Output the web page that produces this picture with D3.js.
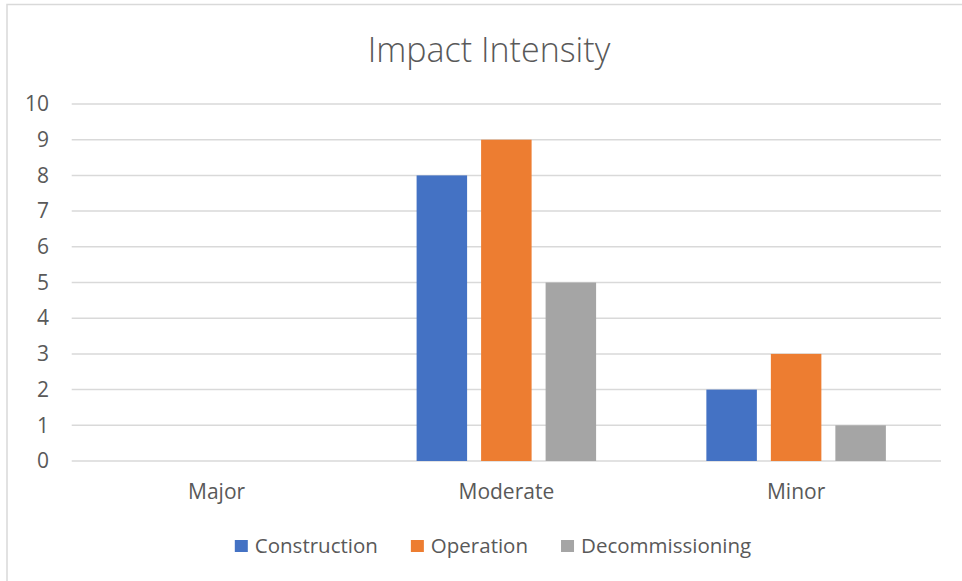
<!DOCTYPE html>
<html>
<head>
<meta charset="utf-8">
<script src="https://cdn.jsdelivr.net/npm/d3@7"></script>
<style>
  html, body { margin: 0; padding: 0; background: #fff; }
  svg { display: block; }
  text { font-family: "Open Sans", "Noto Sans", sans-serif; fill: #595959; }
</style>
</head>
<body>
<svg id="chart" width="962" height="581"></svg>
<script>
// Chart data
const categories = ["Major", "Moderate", "Minor"];
const seriesNames = ["Construction", "Operation", "Decommissioning"];
const construction = [0, 8, 2];
const operation = [0, 9, 3];
const decommissioning = [0, 5, 1];
const yTicks = [0, 1, 2, 3, 4, 5, 6, 7, 8, 9, 10];
const titleText = "Impact Intensity";

const seriesValues = [construction, operation, decommissioning];
const colors = ["#4472C4", "#ED7D31", "#A5A5A5"];

const W = 962, H = 581;
const plot = { left: 71.7, right: 941, top: 104, bottom: 461 };
const labelSize = "21px";
const legendSize = "20.5px";

const svg = d3.select("#chart");

// Outer chart border (top and left edges visible)
svg.append("rect")
  .attr("x", 7).attr("y", 4.5)
  .attr("width", W + 10).attr("height", H + 10)
  .attr("fill", "none")
  .attr("stroke", "#d9d9d9")
  .attr("stroke-width", 1.5);

// Title
svg.append("text")
  .attr("x", 489).attr("y", 62)
  .attr("text-anchor", "middle")
  .style("font-size", "34px")
  .style("font-weight", 300)
  .text(titleText);

// Scales
const x = d3.scaleBand()
  .domain(categories)
  .range([plot.left, plot.right])
  .paddingInner(0).paddingOuter(0);

const groupWidth = 179.5;
const groupOffset = (x.bandwidth() - groupWidth) / 2;
const xInner = d3.scaleBand()
  .domain(seriesNames)
  .range([groupOffset, groupOffset + groupWidth])
  .paddingInner(0.217).paddingOuter(0);

const y = d3.scaleLinear().domain([0, 10]).range([plot.bottom, plot.top]);

// Gridlines
svg.append("g")
  .selectAll("line")
  .data(yTicks)
  .join("line")
  .attr("x1", plot.left).attr("x2", plot.right)
  .attr("y1", d => y(d)).attr("y2", d => y(d))
  .attr("stroke", "#d9d9d9")
  .attr("stroke-width", 1.5);

// Y axis labels
const yAxis = d3.axisLeft(y).tickValues(yTicks).tickSize(0).tickPadding(0);
const yG = svg.append("g")
  .attr("transform", `translate(49,0)`)
  .call(yAxis);
yG.select(".domain").remove();
yG.selectAll("text")
  .style("font-size", labelSize)
  .attr("fill", "#595959")
  .attr("font-family", null);

// Bars
const groups = svg.append("g")
  .selectAll("g")
  .data(categories)
  .join("g")
  .attr("transform", d => `translate(${x(d)},0)`);

groups.selectAll("rect")
  .data((c, ci) => seriesNames.map((s, si) => ({ s, si, v: seriesValues[si][ci] })))
  .join("rect")
  .filter(d => d.v > 0)
  .attr("x", d => xInner(d.s))
  .attr("width", xInner.bandwidth())
  .attr("y", d => y(d.v))
  .attr("height", d => y(0) - y(d.v))
  .attr("fill", d => colors[d.si]);

// Category labels
const xAxis = d3.axisBottom(x).tickSize(0).tickPadding(0);
const xG = svg.append("g")
  .attr("transform", `translate(0,${plot.bottom + 23})`)
  .call(xAxis);
xG.select(".domain").remove();
xG.selectAll("text")
  .style("font-size", labelSize)
  .attr("fill", "#595959")
  .attr("font-family", null);

// Legend
const legend = svg.append("g");
const items = legend.selectAll("g")
  .data(seriesNames)
  .join("g");
items.append("rect")
  .attr("width", 13).attr("height", 12)
  .attr("y", 540)
  .attr("fill", (d, i) => colors[i]);
items.append("text")
  .attr("x", 20)
  .attr("y", 553)
  .style("font-size", legendSize)
  .text(d => d);

const itemGap = 33;
let cursor = 0;
const offsets = [];
items.each(function () {
  const tw = d3.select(this).select("text").node().getComputedTextLength();
  offsets.push(cursor);
  cursor += 20 + tw + itemGap;
});
const totalW = cursor - itemGap;
const startX = 493 - totalW / 2;
items.attr("transform", (d, i) => `translate(${startX + offsets[i]},0)`);
</script>
</body>
</html>
